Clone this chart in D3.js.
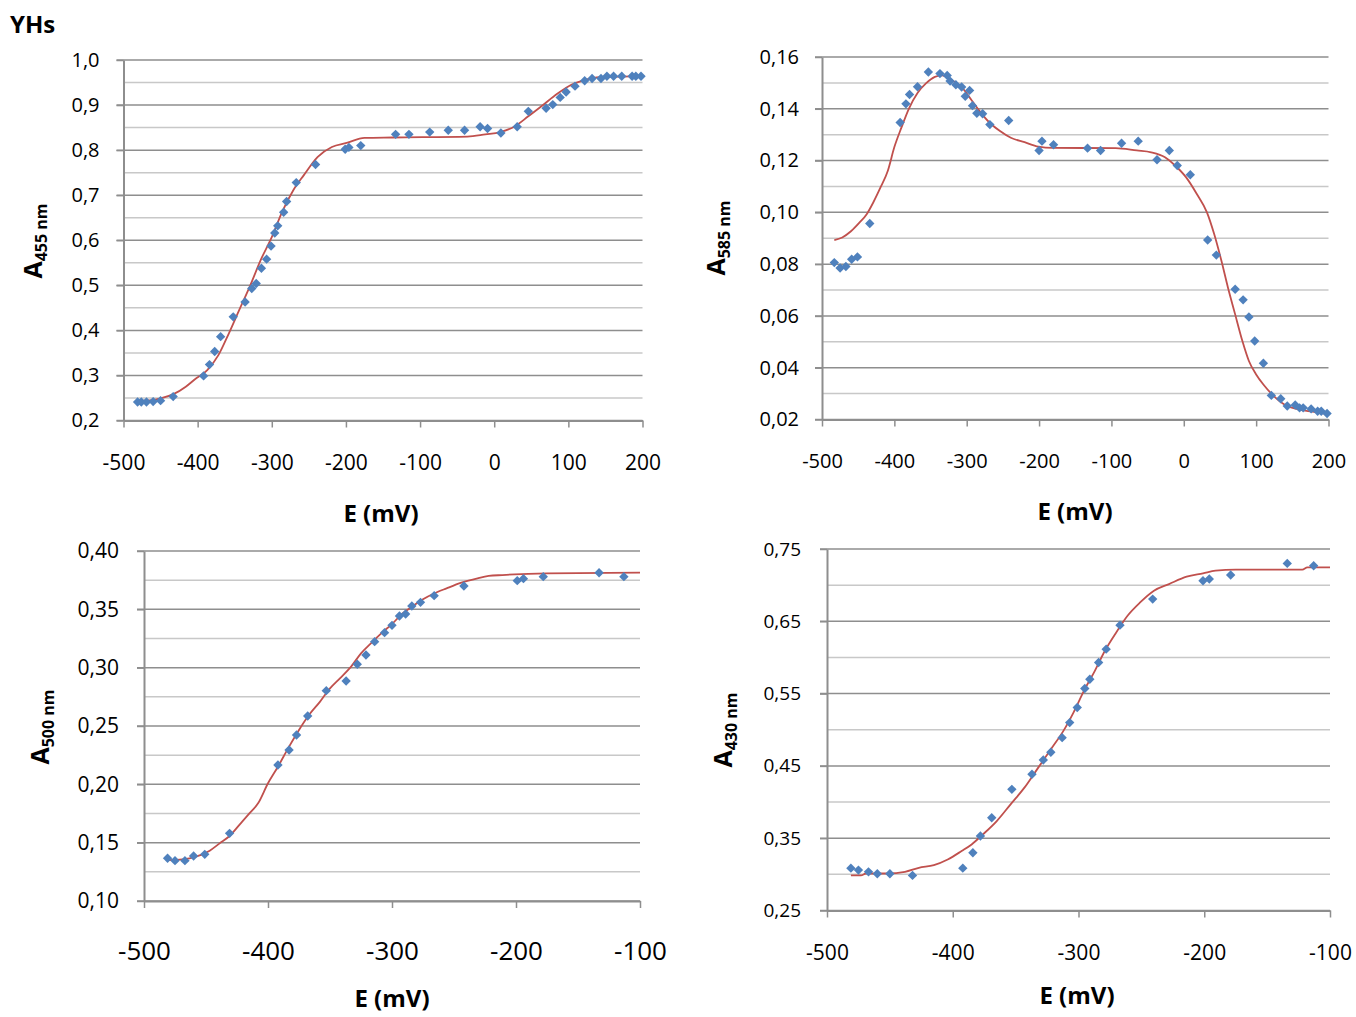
<!DOCTYPE html>
<html><head><meta charset="utf-8">
<script src="https://cdn.jsdelivr.net/npm/d3@7"></script>
<style>
body{margin:0;background:#fff}
svg{display:block}
text{font-family:'Open Sans',Lato,sans-serif;fill:#000}
</style>
</head><body>
<svg id="chart" width="1356" height="1017"></svg>
<script>
// ---------- tick values / labels ----------
const xTicksWide = [-500,-400,-300,-200,-100,0,100,200];
const xLabelsWide = ["-500","-400","-300","-200","-100","0","100","200"];
const xTicksNarrow = [-500,-400,-300,-200,-100];
const xLabelsNarrow = ["-500","-400","-300","-200","-100"];

const y455Ticks = [0.2,0.3,0.4,0.5,0.6,0.7,0.8,0.9,1.0];
const y455Labels = ["0,2","0,3","0,4","0,5","0,6","0,7","0,8","0,9","1,0"];
const y585Ticks = [0.02,0.04,0.06,0.08,0.10,0.12,0.14,0.16];
const y585Labels = ["0,02","0,04","0,06","0,08","0,10","0,12","0,14","0,16"];
const y500Ticks = [0.10,0.15,0.20,0.25,0.30,0.35,0.40];
const y500Labels = ["0,10","0,15","0,20","0,25","0,30","0,35","0,40"];
const y430Ticks = [0.25,0.35,0.45,0.55,0.65,0.75];
const y430Labels = ["0,25","0,35","0,45","0,55","0,65","0,75"];

// ---------- A455 nm ----------
const a455Points = [[-481,0.241],[-476,0.241],[-469,0.241],[-460,0.242],[-450,0.244],[-433,0.253],
 [-392,0.299],[-384,0.324],[-377,0.353],[-369,0.386],[-352,0.430],[-336,0.463],[-327,0.493],[-321,0.504],
 [-314,0.538],[-307,0.558],[-301,0.587],[-296,0.616],[-292,0.632],[-284,0.662],[-280,0.686],[-267,0.728],
 [-241,0.768],[-201,0.802],[-196,0.806],[-180,0.810],[-133,0.835],[-115,0.835],[-87,0.840],[-62,0.844],
 [-40,0.844],[-19,0.852],[-9,0.848],[9,0.838],[31,0.852],[46,0.886],[70,0.893],[79,0.901],[89,0.917],
 [97,0.929],[109,0.942],[122,0.954],[132,0.959],[144,0.959],[152,0.964],[161,0.964],[172,0.964],
 [186,0.964],[191,0.964],[198,0.964]];
const a455Fit = [[-482,0.244],[-469,0.244],[-450,0.249],[-432,0.259],[-416,0.275],[-404,0.291],[-387,0.312],
 [-372,0.345],[-358,0.393],[-344,0.445],[-329,0.500],[-315,0.556],[-300,0.607],[-286,0.663],[-271,0.711],
 [-257,0.744],[-238,0.785],[-219,0.807],[-199,0.816],[-175,0.827],[-137,0.828],[-36,0.830],[-12,0.835],
 [8,0.840],[27,0.852],[46,0.875],[65,0.899],[85,0.925],[104,0.945],[123,0.956],[142,0.962],[170,0.963],[200,0.965]];

// ---------- A585 nm ----------
const a585Points = [[-483,0.0806],[-475,0.0785],[-467,0.0791],[-459,0.0819],[-451,0.0828],[-434,0.0957],
 [-392,0.1347],[-384,0.1419],[-379,0.1455],[-368,0.1485],[-353,0.1542],[-337,0.1536],[-327,0.1529],
 [-323,0.1507],[-315,0.1493],[-307,0.1484],[-302,0.1448],[-296,0.1471],[-292,0.1412],[-286,0.1383],
 [-278,0.1381],[-268,0.1339],[-242,0.1355],[-200,0.1239],[-196,0.1275],[-180,0.1261],[-133,0.1248],
 [-115,0.1239],[-86,0.1267],[-63,0.1275],[-37,0.1203],[-20,0.1239],[-9,0.1181],[9,0.1145],[33,0.0893],
 [45,0.0835],[71,0.0703],[82,0.0662],[90,0.0596],[98,0.0503],[110,0.0417],[121,0.0293],[134,0.0280],
 [143,0.0252],[154,0.0256],[160,0.0245],[165,0.0245],[176,0.0241],[185,0.0232],[190,0.0232],[198,0.0223]];
const a585Fit = [[-483,0.0893],[-472,0.0903],[-460,0.0927],[-448,0.0961],[-438,0.0994],[-429,0.1039],
 [-419,0.1097],[-409,0.1161],[-400,0.1252],[-390,0.1329],[-380,0.1400],[-368,0.1461],[-356,0.1499],
 [-344,0.1523],[-334,0.1529],[-322,0.1512],[-307,0.1484],[-293,0.1432],[-283,0.1394],[-269,0.1348],
 [-254,0.1314],[-239,0.1288],[-220,0.1271],[-201,0.1254],[-181,0.1249],[-94,0.1248],[-65,0.1239],
 [-45,0.1232],[-26,0.1213],[-12,0.1181],[3,0.1136],[18,0.1071],[32,0.1000],[42,0.0916],[52,0.0813],
 [61,0.0710],[71,0.0606],[81,0.0503],[90,0.0426],[100,0.0374],[110,0.0335],[122,0.0297],[139,0.0258],
 [158,0.0239],[178,0.0230],[197,0.0222]];

// ---------- A500 nm ----------
const a500Points = [[-481,0.1366],[-475,0.1346],[-467,0.1346],[-460,0.1386],[-451,0.1400],[-431,0.1580],
 [-392,0.2166],[-383,0.2294],[-377,0.2423],[-368,0.2586],[-353,0.2803],[-337,0.2886],[-328,0.3029],
 [-321,0.3109],[-314,0.3223],[-306,0.3300],[-300,0.3363],[-294,0.3443],[-289,0.3460],[-284,0.3529],
 [-277,0.3560],[-266,0.3617],[-242,0.3700],[-199,0.3746],[-194,0.3763],[-178,0.3780],[-133,0.3814],[-113,0.3780]];
const a500Fit = [[-481,0.1351],[-469,0.1357],[-458,0.1380],[-447,0.1431],[-439,0.1494],[-431,0.1557],
 [-422,0.1666],[-415,0.1751],[-408,0.1837],[-400,0.2009],[-392,0.2151],[-383,0.2323],[-375,0.2466],
 [-367,0.2594],[-358,0.2709],[-350,0.2823],[-342,0.2909],[-333,0.3009],[-325,0.3123],[-317,0.3209],
 [-308,0.3300],[-300,0.3374],[-292,0.3460],[-283,0.3529],[-275,0.3586],[-267,0.3631],[-256,0.3680],
 [-244,0.3729],[-231,0.3766],[-222,0.3786],[-211,0.3794],[-175,0.3809],[-100,0.3814]];

// ---------- A430 nm ----------
const a430Points = [[-481,0.3086],[-475,0.3059],[-467,0.3035],[-460,0.3008],[-450,0.3008],[-432,0.2985],
 [-392,0.3086],[-384,0.3299],[-378,0.3530],[-369,0.3783],[-353,0.4176],[-337,0.4384],[-328,0.4582],
 [-322,0.4688],[-313,0.4891],[-307,0.5099],[-301,0.5307],[-295,0.5570],[-291,0.5699],[-284,0.5930],
 [-278,0.6115],[-267,0.6447],[-241,0.6807],[-201,0.7061],[-196,0.7085],[-179,0.7140],[-134,0.7301],[-113,0.7269]];
const a430Fit = [[-481,0.2985],[-473,0.2985],[-469,0.3012],[-452,0.3012],[-438,0.3035],[-427,0.3091],
 [-415,0.3128],[-404,0.3206],[-393,0.3322],[-385,0.3414],[-376,0.3553],[-365,0.3737],[-354,0.3968],
 [-343,0.4199],[-332,0.4476],[-321,0.4753],[-312,0.4984],[-304,0.5238],[-295,0.5561],[-287,0.5815],
 [-279,0.6092],[-270,0.6346],[-261,0.6577],[-251,0.6761],[-240,0.6923],[-228,0.7015],[-214,0.7117],
 [-201,0.7163],[-191,0.7200],[-175,0.7214],[-122,0.7214],[-118,0.7246],[-100,0.7246]];

// ---------- layout ----------
const svg = d3.select('#chart');
svg.append('text').attr('x',10).attr('y',33).attr('font-size',24).attr('font-weight','bold').text('YHs');

const panels = [
 {points:a455Points, fit:a455Fit, xT:xTicksWide, xL:xLabelsWide, yT:y455Ticks, yL:y455Labels, sub:'455 nm',
  left:123.5, right:642.5, top:60, bottom:420.5, yFont:20, yPad:17, xFont:21, xBase:470,
  eX:381, eY:522, tX:42, tY:241},
 {points:a585Points, fit:a585Fit, xT:xTicksWide, xL:xLabelsWide, yT:y585Ticks, yL:y585Labels, sub:'585 nm',
  left:822, right:1328.5, top:57, bottom:419.5, yFont:20, yPad:16, xFont:20, xBase:468,
  eX:1075, eY:520, tX:725, tY:238},
 {points:a500Points, fit:a500Fit, xT:xTicksNarrow, xL:xLabelsNarrow, yT:y500Ticks, yL:y500Labels, sub:'500 nm',
  left:144, right:640, top:551, bottom:901, yFont:21, yPad:18, xFont:26, xBase:960,
  eX:392, eY:1007, tX:49, tY:727},
 {points:a430Points, fit:a430Fit, xT:xTicksNarrow, xL:xLabelsNarrow, yT:y430Ticks, yL:y430Labels, sub:'430 nm',
  left:827, right:1330, top:549, bottom:910.5, yFont:19, yPad:19, xFont:21, xBase:960,
  eX:1077, eY:1004, tX:732, tY:730}
];

const gridMajor = '#8e8e8e', gridMinor = '#c8c8c8';

panels.forEach(p => {
  const g = svg.append('g');
  const yDom = d3.extent(p.yT), xDom = d3.extent(p.xT);
  const x = d3.scaleLinear().domain(xDom).range([p.left, p.right]);
  const y = d3.scaleLinear().domain(yDom).range([p.bottom, p.top]);
  const minors = d3.pairs(p.yT).map(([a,b]) => (a+b)/2);

  g.selectAll('line.minor').data(minors).join('line').attr('class','minor')
    .attr('x1',p.left).attr('x2',p.right).attr('y1',d=>y(d)).attr('y2',d=>y(d))
    .attr('stroke',gridMinor).attr('stroke-width',1.5);
  g.selectAll('line.major').data(p.yT).join('line').attr('class','major')
    .attr('x1',p.left-7).attr('x2',p.right).attr('y1',d=>y(d)).attr('y2',d=>y(d))
    .attr('stroke',gridMajor).attr('stroke-width',1.5);

  const yAxis = g.append('g').attr('transform',`translate(${p.left},0)`)
    .call(d3.axisLeft(y).tickValues(p.yT).tickFormat((d,i)=>p.yL[i]).tickSize(7).tickSizeOuter(0).tickPadding(p.yPad));
  yAxis.select('.domain').attr('stroke',gridMajor).attr('stroke-width',2);
  yAxis.selectAll('.tick line').attr('stroke',gridMajor).attr('stroke-width',1.5);
  yAxis.selectAll('.tick text').attr('font-size',p.yFont).attr('font-family',"'Open Sans',sans-serif").attr('fill','#000');

  const xAxis = g.append('g').attr('transform',`translate(0,${p.bottom})`)
    .call(d3.axisBottom(x).tickValues(p.xT).tickFormat((d,i)=>p.xL[i]).tickSize(7).tickSizeOuter(0));
  xAxis.select('.domain').attr('stroke',gridMajor).attr('stroke-width',2);
  xAxis.selectAll('.tick line').attr('stroke',gridMajor).attr('stroke-width',1.5);
  xAxis.selectAll('.tick text').attr('font-size',p.xFont).attr('font-family',"'Open Sans',sans-serif")
    .attr('fill','#000').attr('dy',null).attr('y',p.xBase - p.bottom);

  // fit line
  const line = d3.line().x(d=>x(d[0])).y(d=>y(d[1])).curve(d3.curveMonotoneX);
  g.append('path').datum(p.fit).attr('d',line).attr('fill','none')
    .attr('stroke','#C0504D').attr('stroke-width',1.8);

  // diamonds
  const sym = d3.symbol().type(d3.symbolSquare).size(44);
  g.selectAll('path.pt').data(p.points).join('path').attr('class','pt')
    .attr('d',sym).attr('transform',d=>`translate(${x(d[0])},${y(d[1])}) rotate(45)`)
    .attr('fill','#4F81BD');

  // x title
  g.append('text').attr('x',p.eX).attr('y',p.eY).attr('text-anchor','middle')
    .attr('font-size',24).attr('font-weight','bold').text('E (mV)');

  // y title
  const t = g.append('text').attr('transform',`translate(${p.tX},${p.tY}) rotate(-90)`)
    .attr('text-anchor','middle').attr('font-weight','bold');
  t.append('tspan').attr('font-size',25).text('A');
  t.append('tspan').attr('font-size',16).attr('dy',5).text(p.sub);
});
</script>
</body></html>
